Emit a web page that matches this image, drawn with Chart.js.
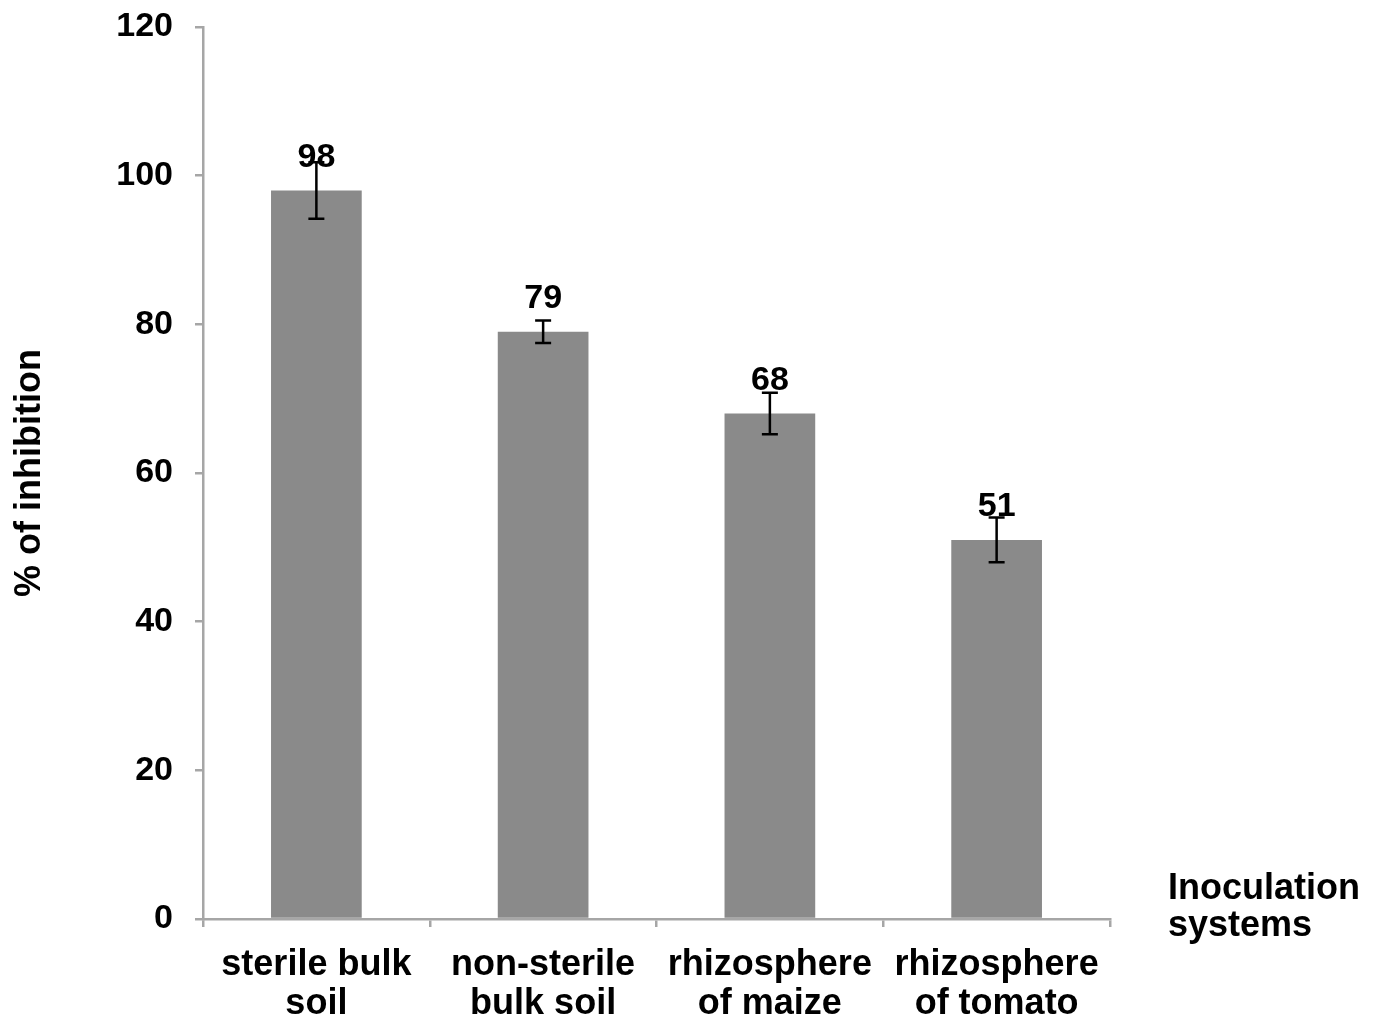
<!DOCTYPE html>
<html><head><meta charset="utf-8">
<script src="https://cdn.jsdelivr.net/npm/chart.js@4.4.0/dist/chart.umd.min.js"></script>
<style>html,body{margin:0;padding:0;background:#fff}</style>
</head><body>
<canvas id="c" width="1376" height="1020" style="display:block;width:1376px;height:1020px"></canvas>
<script>
const categories = [["sterile bulk","soil"],["non-sterile","bulk soil"],["rhizosphere","of maize"],["rhizosphere","of tomato"]];
const inhibition = [98, 79, 68, 51];
const errorValues = [3.8, 1.5, 2.8, 3.0];
const yTickValues = [0, 20, 40, 60, 80, 100, 120];
const yTitle = "% of inhibition";
const xTitleLines = ["Inoculation", "systems"];

const FONT = "'Liberation Sans', Arial, sans-serif";
const AXIS_COLOR = "#a6a6a6";

const errorBarPlugin = {
  id: "errorBars",
  afterDatasetsDraw(chart) {
    const ctx = chart.ctx;
    const meta = chart.getDatasetMeta(0);
    const y = chart.scales.y;
    ctx.save();
    ctx.strokeStyle = "#000";
    ctx.lineWidth = 2.5;
    meta.data.forEach((bar, i) => {
      const v = inhibition[i], e = errorValues[i];
      const top = y.getPixelForValue(v + e), bot = y.getPixelForValue(v - e);
      const cx = bar.x, hw = 8;
      ctx.beginPath();
      ctx.moveTo(cx, top); ctx.lineTo(cx, bot);
      ctx.moveTo(cx - hw, top); ctx.lineTo(cx + hw, top);
      ctx.moveTo(cx - hw, bot); ctx.lineTo(cx + hw, bot);
      ctx.stroke();
    });
    ctx.restore();
  }
};

const valueLabelPlugin = {
  id: "valueLabels",
  afterDatasetsDraw(chart) {
    const ctx = chart.ctx;
    const meta = chart.getDatasetMeta(0);
    ctx.save();
    ctx.font = "bold 34px " + FONT;
    ctx.fillStyle = "#000";
    ctx.textAlign = "center";
    ctx.textBaseline = "alphabetic";
    meta.data.forEach((bar, i) => {
      ctx.fillText(String(inhibition[i]), bar.x, bar.y - 24);
    });
    ctx.restore();
  }
};

const xTitlePlugin = {
  id: "xTitle",
  afterDraw(chart) {
    const ctx = chart.ctx;
    const area = chart.chartArea;
    ctx.save();
    ctx.font = "bold 36px " + FONT;
    ctx.fillStyle = "#000";
    ctx.textAlign = "left";
    ctx.textBaseline = "alphabetic";
    xTitleLines.forEach((t, i) => {
      ctx.fillText(t, area.right + 58, area.bottom - 20 + i * 37);
    });
    ctx.restore();
  }
};

new Chart(document.getElementById("c"), {
  type: "bar",
  data: {
    labels: categories,
    datasets: [{
      data: inhibition,
      backgroundColor: "#8a8a8a",
      borderWidth: 0,
      barPercentage: 0.4,
      categoryPercentage: 1.0
    }]
  },
  options: {
    responsive: false,
    animation: false,
    devicePixelRatio: 1,
    layout: { padding: { top: 27, right: 266, left: 0, bottom: 0 } },
    plugins: { legend: { display: false }, tooltip: { enabled: false } },
    scales: {
      x: {
        offset: true,
        grid: { display: true, drawOnChartArea: false, offset: true, color: AXIS_COLOR, lineWidth: 2.5, tickLength: 8, tickWidth: 2.5 },
        border: { display: true, color: AXIS_COLOR, width: 2.5 },
        ticks: { color: "#000", font: { family: FONT, size: 36, weight: "bold", lineHeight: 1.1 }, padding: 18, maxRotation: 0, autoSkip: false },
        afterFit(s) { s.height = 101; }
      },
      y: {
        min: 0, max: 120,
        afterBuildTicks(s) { s.ticks = yTickValues.map(v => ({ value: v })); },
        grid: { display: true, drawOnChartArea: false, color: AXIS_COLOR, lineWidth: 2.5, tickLength: 8, tickWidth: 2.5 },
        border: { display: true, color: AXIS_COLOR, width: 2.5 },
        ticks: { color: "#000", font: { family: FONT, size: 34, weight: "bold" }, padding: 22 },
        title: { display: true, text: yTitle, color: "#000", font: { family: FONT, size: 36, weight: "bold", lineHeight: 1.2 }, padding: { top: 8, bottom: 0 } },
        afterFit(s) { s.width = 203; s.paddingTop = 0; s.paddingBottom = 0; }
      }
    }
  },
  plugins: [errorBarPlugin, valueLabelPlugin, xTitlePlugin]
});
</script>
</body></html>
